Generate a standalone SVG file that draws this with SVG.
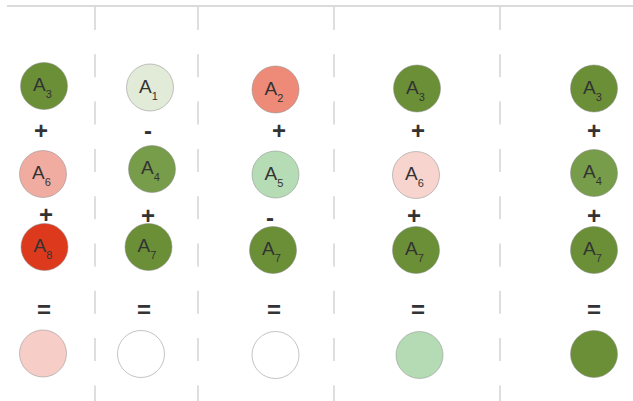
<svg xmlns="http://www.w3.org/2000/svg" width="633" height="401" viewBox="0 0 633 401">
<style>
.sep{stroke:#c9c9c9;stroke-width:1.2;stroke-dasharray:23 24.3;fill:none}
.c{stroke:#8a8a8a;stroke-opacity:0.5;stroke-width:1}
.a{font-family:"Liberation Sans",Arial,sans-serif;font-size:19px;fill:#333}
.s{font-size:11px}
.op{font-family:"Liberation Sans",Arial,sans-serif;font-size:24px;font-weight:bold;fill:#333;text-anchor:middle}
</style>
<rect width="633" height="401" fill="#fff"/>
<line x1="7" y1="6" x2="633" y2="6" stroke="#cfcfcf" stroke-width="1.5"/>
<g id="separators">
<line class="sep" x1="95" y1="7" x2="95" y2="401"/>
<line class="sep" x1="198" y1="7" x2="198" y2="401"/>
<line class="sep" x1="334" y1="7" x2="334" y2="401"/>
<line class="sep" x1="500" y1="7" x2="500" y2="401"/>
</g>
<g id="col1">
<g id="c1r1"><circle class="c" cx="44" cy="86" r="23.5" fill="#6a8f37"/><text class="a" x="33" y="91">A<tspan class="s" dy="7">3</tspan></text></g>
<g id="c1r2"><circle class="c" cx="43" cy="174" r="23.5" fill="#f0aca1"/><text class="a" x="32" y="179">A<tspan class="s" dy="7">6</tspan></text></g>
<g id="c1r3"><circle class="c" cx="44.5" cy="247" r="23.5" fill="#dd3a1d"/><text class="a" x="33.5" y="252">A<tspan class="s" dy="7">8</tspan></text></g>
<g id="c1res"><circle class="c" cx="43" cy="353.5" r="23.5" fill="#f6cec7"/></g>
<text class="op" x="41" y="139">+</text>
<text class="op" x="46" y="223">+</text>
<text class="op" x="44" y="318">=</text>
</g>
<g id="col2">
<g id="c2r1"><circle class="c" cx="150" cy="87.5" r="23.5" fill="#e2ead8"/><text class="a" x="139" y="92.5">A<tspan class="s" dy="7">1</tspan></text></g>
<g id="c2r2"><circle class="c" cx="152" cy="169" r="23.5" fill="#779c4a"/><text class="a" x="141" y="174">A<tspan class="s" dy="7">4</tspan></text></g>
<g id="c2r3"><circle class="c" cx="148.5" cy="247" r="23.5" fill="#6a8f37"/><text class="a" x="137.5" y="252">A<tspan class="s" dy="7">7</tspan></text></g>
<g id="c2res"><circle class="c" cx="141" cy="354" r="23.5" fill="#fff"/></g>
<text class="op" x="148" y="139">-</text>
<text class="op" x="148" y="224">+</text>
<text class="op" x="144" y="318">=</text>
</g>
<g id="col3">
<g id="c3r1"><circle class="c" cx="275.5" cy="89.5" r="23.5" fill="#ed8b78"/><text class="a" x="264.5" y="94.5">A<tspan class="s" dy="7">2</tspan></text></g>
<g id="c3r2"><circle class="c" cx="275.5" cy="174.5" r="23.5" fill="#b5dcb5"/><text class="a" x="264.5" y="179.5">A<tspan class="s" dy="7">5</tspan></text></g>
<g id="c3r3"><circle class="c" cx="273" cy="250" r="23.5" fill="#6a8f37"/><text class="a" x="262" y="255">A<tspan class="s" dy="7">7</tspan></text></g>
<g id="c3res"><circle class="c" cx="275.5" cy="355" r="23.5" fill="#fff"/></g>
<text class="op" x="279" y="139">+</text>
<text class="op" x="270" y="226">-</text>
<text class="op" x="274" y="318">=</text>
</g>
<g id="col4">
<g id="c4r1"><circle class="c" cx="417" cy="88.5" r="23.5" fill="#6a8f37"/><text class="a" x="406" y="93.5">A<tspan class="s" dy="7">3</tspan></text></g>
<g id="c4r2"><circle class="c" cx="416" cy="175" r="23.5" fill="#f7d4ce"/><text class="a" x="405" y="180">A<tspan class="s" dy="7">6</tspan></text></g>
<g id="c4r3"><circle class="c" cx="416" cy="250" r="23.5" fill="#6a8f37"/><text class="a" x="405" y="255">A<tspan class="s" dy="7">7</tspan></text></g>
<g id="c4res"><circle class="c" cx="419.5" cy="355" r="23.5" fill="#b4dbb4"/></g>
<text class="op" x="418" y="139">+</text>
<text class="op" x="414" y="224">+</text>
<text class="op" x="418" y="318">=</text>
</g>
<g id="col5">
<g id="c5r1"><circle class="c" cx="594" cy="88.5" r="23.5" fill="#6a8f37"/><text class="a" x="583" y="93.5">A<tspan class="s" dy="7">3</tspan></text></g>
<g id="c5r2"><circle class="c" cx="594" cy="173" r="23.5" fill="#779c4a"/><text class="a" x="583" y="178">A<tspan class="s" dy="7">4</tspan></text></g>
<g id="c5r3"><circle class="c" cx="594" cy="250" r="23.5" fill="#6a8f37"/><text class="a" x="583" y="255">A<tspan class="s" dy="7">7</tspan></text></g>
<g id="c5res"><circle class="c" cx="594" cy="354" r="23.5" fill="#6a8f37"/></g>
<text class="op" x="594" y="139">+</text>
<text class="op" x="594" y="224">+</text>
<text class="op" x="594" y="318">=</text>
</g>
</svg>
